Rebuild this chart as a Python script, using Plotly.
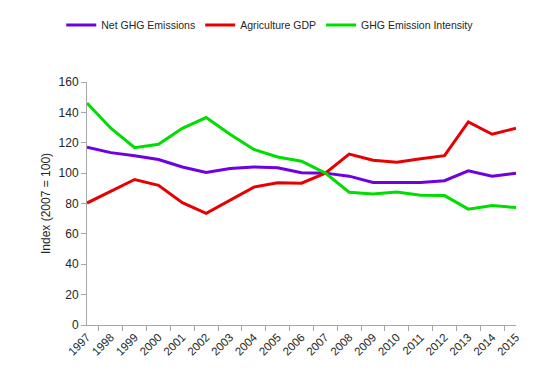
import plotly.graph_objects as go

years = [str(y) for y in range(1997, 2016)]
net_ghg = [117, 113.5, 111.5, 109, 104, 100.5, 103, 104, 103.5, 100.2, 100, 98, 93.8, 93.8, 93.8, 95, 101.5, 98, 100]
agri_gdp = [80.3, 88, 95.8, 92, 80.5, 73.5, 82, 90.8, 93.6, 93.4, 100, 112.5, 108.5, 107.2, 109.5, 111.5, 133.7, 125.6, 129.6]
intensity = [146.2, 129.6, 116.7, 119, 129.5, 136.6, 125.6, 115.6, 110.6, 107.8, 100, 87.4, 86.2, 87.5, 85.5, 85.2, 76.3, 78.6, 77.3]

series = [
    ("Net GHG Emissions", net_ghg, "#7000E0"),
    ("Agriculture GDP", agri_gdp, "#E80000"),
    ("GHG Emission Intensity", intensity, "#00DD00"),
]

FONT = "Liberation Sans, Arial, sans-serif"

fig = go.Figure()
for name, vals, col in series:
    fig.add_trace(go.Scatter(x=years, y=vals, name=name, mode="lines",
                             line=dict(color=col, width=3)))

fig.update_layout(
    width=546, height=390,
    margin=dict(l=79, r=38, t=74, b=73, autoexpand=False),
    paper_bgcolor="white", plot_bgcolor="white",
    font=dict(family=FONT, size=12, color="#262626"),
    showlegend=True,
    legend=dict(orientation="h", x=-0.06, xanchor="left", y=1.235, yanchor="middle",
                font=dict(size=10.5, color="#262626"), itemwidth=30, tracegroupgap=0,
                bgcolor="rgba(0,0,0,0)"),
    xaxis=dict(type="category", showline=True, linecolor="#A6A6A6", linewidth=1,
               ticks="outside", tickson="boundaries", ticklen=5, tickcolor="#A6A6A6",
               tickangle=-45, showgrid=False, zeroline=False, automargin=False,
               tickfont=dict(size=11.5, color="#262626")),
    yaxis=dict(range=[0, 160], dtick=20, showline=True, linecolor="#A6A6A6", linewidth=1,
               ticks="outside", ticklen=5, tickcolor="#A6A6A6", showgrid=False, zeroline=False,
               automargin=False,
               tickfont=dict(size=12, color="#262626"),
               title=dict(text="Index (2007 = 100)", font=dict(size=12, color="#262626"), standoff=5)),
)

fig.write_html("out.html")
